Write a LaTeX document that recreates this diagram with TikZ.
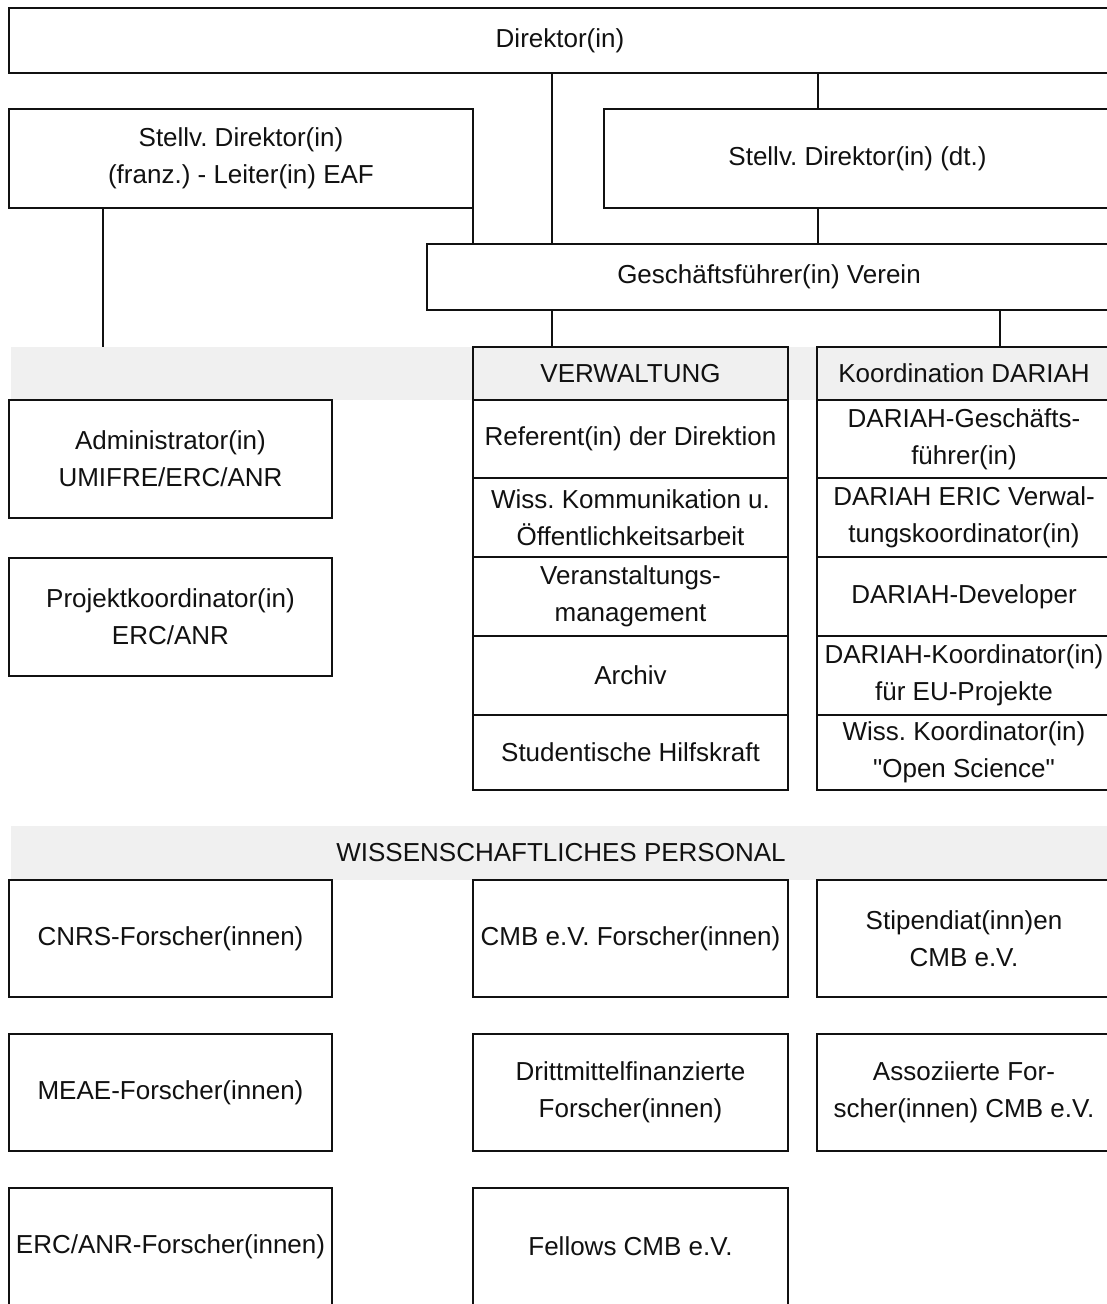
\documentclass[tikz,border=0pt]{standalone}
\usepackage{fontspec}
\setmainfont{Liberation Sans}[Ligatures=TeXOff]
\usetikzlibrary{positioning}
\definecolor{bandgray}{HTML}{F0F0F0}
\definecolor{ink}{HTML}{111111}
\newcommand{\orgfont}{\fontsize{19.5}{27.75}\selectfont}
\frenchspacing
\tikzset{
  box/.style={draw=ink, line width=1.4pt, fill=white, inner sep=0pt, outer sep=0pt,
    align=center, text=ink, font=\orgfont},
  sz/.style 2 args={minimum width=#1*0.75pt, minimum height=#2*0.75pt},
  head/.style={box, fill=bandgray},
  band/.style={fill=bandgray, inner sep=0pt, outer sep=0pt, text=ink, font=\orgfont},
  conn/.style={draw=ink, line width=1.1pt},
}

\begin{document}
\begin{tikzpicture}[x=0.75pt,y=-0.75pt]
  \clip (0,0) rectangle (1107,1304);
  \fill[white] (0,0) rectangle (1107,1304);

  % x positions of the connectors
  \coordinate (cmid) at (552,0);
  \coordinate (cdt) at (818,0);
  \coordinate (cfr) at (103,0);
  \coordinate (cdar) at (1000,0);

  % grey bands
  \node[band, sz={1100}{53}] (band1) at (561,373.5) {};
  \node[band, sz={1100}{54}] (band2) at (561,853) {WISSENSCHAFTLICHES PERSONAL};

  % direction
  \node[box, sz={1102}{65}] (dir) at (560,40.5) {Direktor(in)};
  \node[box, sz={464}{99}] (svfr) at (241,158.5) {Stellv. Direktor(in)\\(franz.) - Leiter(in) EAF};
  \node[box, sz={507}{99}] (svdt) at (857.5,158.5) {Stellv. Direktor(in) (dt.)};
  \node[box, sz={684}{66}] (gf) at (769,277) {Geschäftsführer(in) Verein};

  % Verwaltung
  \node[head, sz={315}{53}] (verw) at (630.5,373.5) {VERWALTUNG};
  \node[box, sz={315}{78}, below=0pt of verw] (ref) {Referent(in) der Direktion};
  \node[box, sz={315}{79}, below=0pt of ref] (komm) {Wiss. Kommunikation u.\\Öffentlichkeitsarbeit};
  \node[box, sz={315}{79}, below=0pt of komm] (vera) {Veranstaltungs-\\management};
  \node[box, sz={315}{79}, below=0pt of vera] (arch) {Archiv};
  \node[box, sz={315}{75}, below=0pt of arch] (hilf) {Studentische Hilfskraft};

  % Koordination DARIAH
  \node[head, sz={294}{53}] (dariah) at (964,373.5) {Koordination DARIAH};
  \node[box, sz={294}{78}, below=0pt of dariah] (dgf) {DARIAH-Geschäfts-\\führer(in)};
  \node[box, sz={294}{79}, below=0pt of dgf] (dver) {DARIAH ERIC Verwal-\\tungskoordinator(in)};
  \node[box, sz={294}{79}, below=0pt of dver] (ddev) {DARIAH-Developer};
  \node[box, sz={294}{79}, below=0pt of ddev] (deu) {DARIAH-Koordinator(in)\\für EU-Projekte};
  \node[box, sz={294}{75}, below=0pt of deu] (dos) {Wiss. Koordinator(in)\\"Open Science"};

  % left column
  \node[box, sz={323}{118}] (admin) at (170.5,459) {Administrator(in)\\UMIFRE/ERC/ANR};
  \node[box, sz={323}{118}] (proj) at (170.5,617) {Projektkoordinator(in)\\ERC/ANR};

  % wissenschaftliches Personal
  \node[box, sz={323}{117}] (cnrs) at (170.5,938.5) {CNRS-Forscher(innen)};
  \node[box, sz={315}{117}] (cmbf) at (630.5,938.5) {CMB e.V. Forscher(innen)};
  \node[box, sz={294}{117}] (stip) at (964,938.5) {Stipendiat(inn)en\\CMB e.V.};
  \node[box, sz={323}{117}] (meae) at (170.5,1092.5) {MEAE-Forscher(innen)};
  \node[box, sz={315}{117}] (dritt) at (630.5,1092.5) {Drittmittelfinanzierte\\Forscher(innen)};
  \node[box, sz={294}{117}] (asso) at (964,1092.5) {Assoziierte For-\\scher(innen) CMB e.V.};
  \node[box, sz={323}{117}] (ercf) at (170.5,1246.5) {ERC/ANR-Forscher(innen)};
  \node[box, sz={315}{117}] (fell) at (630.5,1246.5) {Fellows CMB e.V.};

  % connectors
  \draw[conn] (dir.south -| cmid) -- (gf.north -| cmid);
  \draw[conn] (dir.south -| cdt) -- (svdt.north -| cdt);
  \draw[conn] (svdt.south -| cdt) -- (gf.north -| cdt);
  \draw[conn] (svfr.south east) -- (gf.north -| svfr.east);
  \draw[conn] (svfr.south -| cfr) -- (band1.north -| cfr);
  \draw[conn] (gf.south -| cmid) -- (verw.north -| cmid);
  \draw[conn] (gf.south -| cdar) -- (dariah.north -| cdar);
\end{tikzpicture}
\end{document}
